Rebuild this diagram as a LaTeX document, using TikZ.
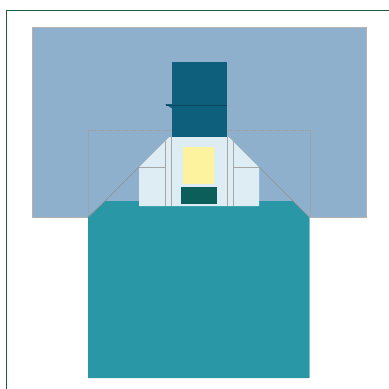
\documentclass[tikz,border=0pt]{standalone}
\usepackage{xcolor}
\usepackage{tikz}
\usetikzlibrary{positioning}
\definecolor{framegreen}{HTML}{1B5E3B}
\definecolor{skyblue}{HTML}{8FB0CC}
\definecolor{seateal}{HTML}{2A97A7}
\definecolor{towerblue}{HTML}{0E5F7B}
\definecolor{hullpale}{HTML}{DDEDF3}
\definecolor{lampyellow}{HTML}{FDF29E}
\definecolor{baydark}{HTML}{0B5E5A}
\tikzset{
  skypanel/.style={fill=skyblue,draw=black!30,line width=0.6pt},
  guideline/.style={draw=black!38,densely dotted,line width=0.6pt},
  slantline/.style={draw=black!45,line width=0.6pt},
  hullline/.style={draw=black!35,line width=0.5pt},
  framestroke/.style={draw=framegreen,line width=0.8pt}
}

\begin{document}
\begin{tikzpicture}[x=1pt,y=-1pt]
  \useasboundingbox (0,0) rectangle (389,389);
  % background panel and guide box
  \path[skypanel] (32,27) rectangle (366,217);
  \path[guideline] (88,130) rectangle (310,216);
  % base block
  \fill[seateal] (88,378) -- (88,217) -- (105,201) -- (293,201) -- (309,217) -- (309,378) -- cycle;
  \draw[seateal!60!white,line width=0.6pt] (309,217) -- (309,378);
  \draw[slantline] (89,217) -- (169,137);
  \draw[slantline] (309,217) -- (229,137);
  % pale hull
  \fill[hullpale] (139,206) -- (139,167) -- (169,137) -- (229,137) -- (259,167) -- (259,206) -- cycle;
  \draw[hullline] (165,141) -- (165,206) (171,137) -- (171,206);
  \draw[hullline] (227,137) -- (227,206) (233,141) -- (233,206);
  \draw[hullline] (139,167) -- (165,167) (233,167) -- (259,167);
  % windows
  \fill[lampyellow] (183,147) rectangle (214,184);
  \fill[baydark] (181,187) rectangle (217,204);
  % tower
  \fill[towerblue] (172,62) rectangle (227,137);
  \fill[towerblue] (165,104) -- (173,104) -- (173,109) -- cycle;
  \draw[towerblue!75!black,line width=0.8pt] (166,105) -- (227,105);
  % frame
  \draw[framestroke] (6,389) -- (6,10) -- (389,10);
\end{tikzpicture}
\end{document}
